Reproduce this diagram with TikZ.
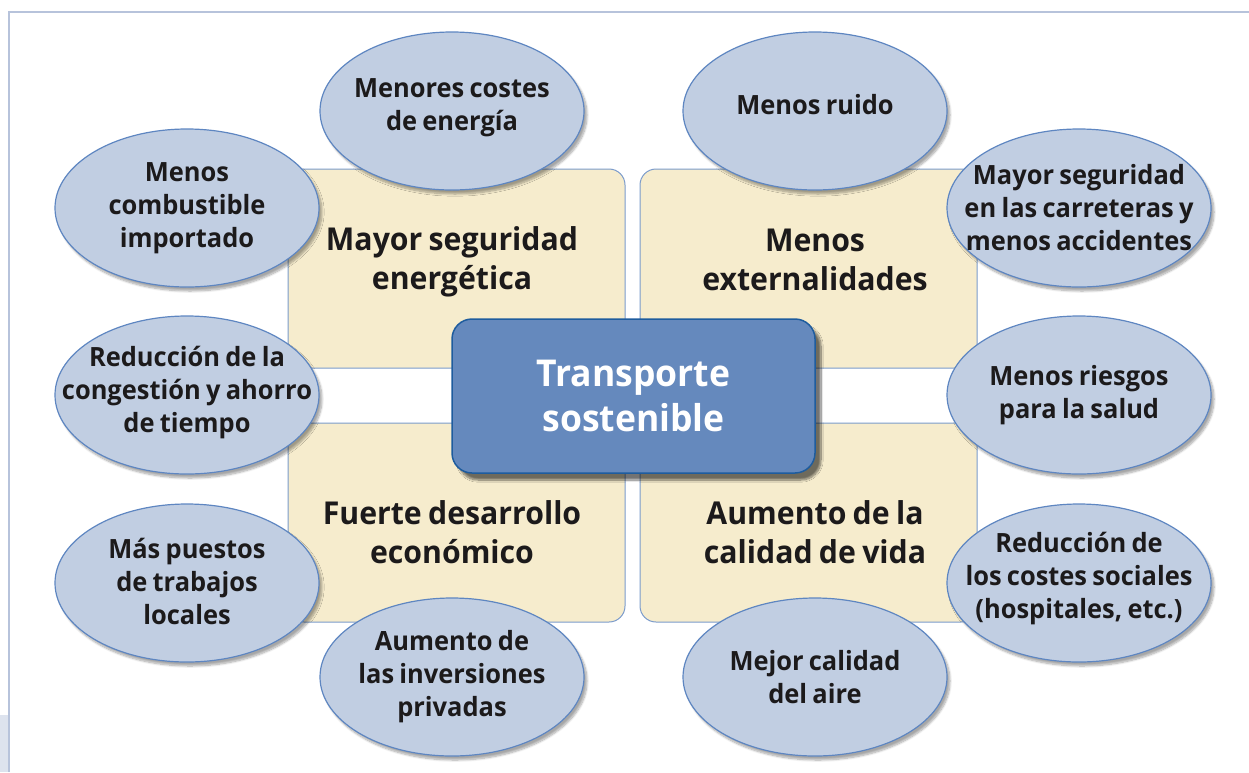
\documentclass[tikz,border=0pt]{standalone}
\usepackage{fontspec}
\setmainfont{Open Sans}[FakeStretch=0.96, WordSpace=0.8]
\usetikzlibrary{shapes.geometric,shadows.blur}
\definecolor{ellfill}{HTML}{C1CEE2}
\definecolor{ellline}{HTML}{5E86C1}
\definecolor{rectfill}{HTML}{F6ECCD}
\definecolor{rectline}{HTML}{7B9BCB}
\definecolor{boxfill}{HTML}{6589BD}
\definecolor{boxline}{HTML}{1E5C9E}
\definecolor{frameline}{HTML}{B7C3DB}
\definecolor{framefill}{HTML}{DDE3EE}
\definecolor{txt}{HTML}{1C1A1B}
\begin{document}
\begin{tikzpicture}[x=1pt,y=-1pt,
  oval/.style={ellipse, minimum width=264pt, minimum height=158pt, inner sep=0pt,
    fill=ellfill, draw=ellline, line width=1.2pt,
    blur shadow={shadow xshift=3pt, shadow yshift=-4pt, shadow blur steps=8, shadow opacity=35}},
  ovaltext/.style={align=center, text=txt, inner sep=0pt,
    font=\fontsize{26.5}{33}\selectfont\bfseries},
  panel/.style={rectangle, rounded corners=16pt, minimum width=337pt, minimum height=199pt,
    inner sep=0pt, fill=rectfill, draw=rectline, line width=1pt},
  paneltext/.style={align=center, text=txt, inner sep=0pt, font=\fontsize{31.5}{39.5}\selectfont\bfseries},
  centerbox/.style={rectangle, rounded corners=20pt, minimum width=363pt, minimum height=154pt,
    inner sep=0pt, fill=boxfill, draw=boxline, line width=1.5pt, align=center, text=white,
    font=\fontsize{37}{45}\selectfont\bfseries,
    blur shadow={shadow xshift=6pt, shadow yshift=-7pt, shadow blur steps=10, shadow opacity=55}},
  framestyle/.style={draw=frameline, line width=2pt}
]
\useasboundingbox (0,0) rectangle (1249,772);
% frame
\fill[framefill] (0,715) rectangle (8,772);
\draw[framestyle] (9,772) -- (9,12) -- (1249,12);
% panels
\node[panel] (ptl) at (456.5,268.5) {};
\node[panel] (ptr) at (808.5,268.5) {};
\node[panel] (pbl) at (456.5,522.5) {};
\node[panel] (pbr) at (808.5,522.5) {};
\node[paneltext] (ttl) at (452,262) {Mayor seguridad\\energética};
\node[paneltext] (ttr) at (815,260) {Menos\\externalidades};
\node[paneltext] (tbl) at (452,532) {Fuerte desarrollo\\económico};
\node[paneltext] (tbr) at (815,532) {Aumento de la\\calidad de vida};
% ellipses
\node[oval] (e1) at (452,111) {};
\node[oval] (e2) at (815,111) {};
\node[oval] (e3) at (187,208) {};
\node[oval] (e4) at (1079,208) {};
\node[oval] (e5) at (187,395) {};
\node[oval] (e6) at (1079,395) {};
\node[oval] (e7) at (187,583) {};
\node[oval] (e8) at (1079,583) {};
\node[oval] (e9) at (452,677) {};
\node[oval] (e10) at (815,677) {};
\node[ovaltext, yshift=3pt] (l1) at (e1) {Menores costes\\de energía};
\node[ovaltext, yshift=6pt] (l2) at (e2) {Menos ruido};
\node[ovaltext] (l3) at (e3) {Menos\\combustible\\importado};
\node[ovaltext] (l4) at (e4) {Mayor seguridad\\en las carreteras y\\menos accidentes};
\node[ovaltext, yshift=2pt] (l5) at (e5) {Reducción de la\\congestión y ahorro\\de tiempo};
\node[ovaltext] (l6) at (e6) {Menos riesgos\\para la salud};
\node[ovaltext, yshift=2pt] (l7) at (e7) {Más puestos\\de trabajos\\locales};
\node[ovaltext, yshift=4pt] (l8) at (e8) {Reducción de\\los costes sociales\\(hospitales, etc.)};
\node[ovaltext] (l9) at (e9) {Aumento de\\las inversiones\\privadas};
\node[ovaltext] (l10) at (e10) {Mejor calidad\\del aire};
% center
\node[centerbox] (c) at (633.5,396) {Transporte\\sostenible};
\end{tikzpicture}
\end{document}
